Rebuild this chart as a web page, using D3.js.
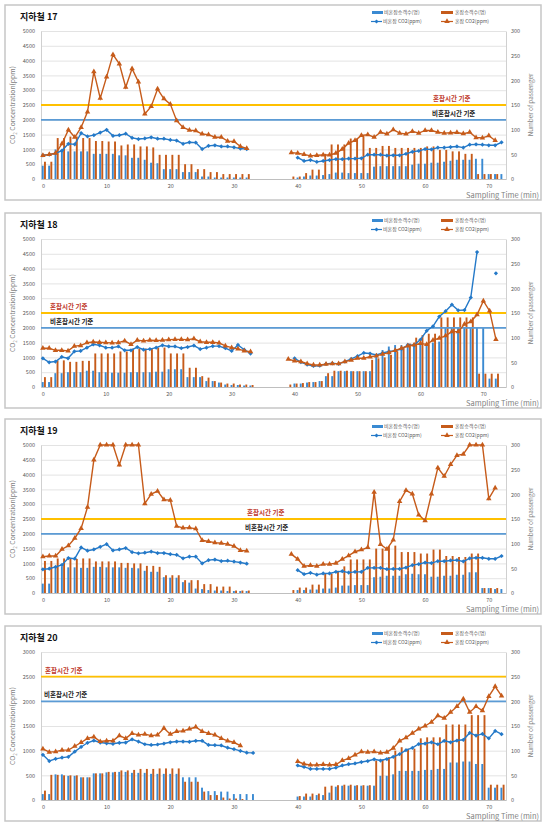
<!DOCTYPE html>
<html><head><meta charset="utf-8">
<script src="https://cdn.jsdelivr.net/npm/d3@7"></script>
<style>body{margin:0;background:#fff}</style>
</head><body>
<script>
const N = null;
const minutes = d3.range(0, 73);
const xTickLabels = [0, 10, 20, 30, 40, 50, 60, 70];
const passengerTicks = [0, 50, 100, 150, 200, 250, 300];
const titles = ["지하철 17", "지하철 18", "지하철 19", "지하철 20"];
const co2Max = [5000, 5000, 5000, 3000];
const xMaxCat = [72.7, 73.6, 72.7, 72.7];
const thresholds = [2500, 2000];
const thresholdLabels = ["혼잡시간 기준", "비혼잡시간 기준"];
const legendLabels = ["비혼잡승객수(명)", "혼잡승객수(명)", "비혼잡 CO2(ppm)", "혼잡 CO2(ppm)"];

// 지하철 17
const s17_blueCO2 = [800,820,870,960,1190,1170,1550,1440,1480,1570,1660,1460,1480,1530,1390,1350,1370,1410,1360,1360,1320,1300,1190,1240,1230,1010,1120,1140,1100,1100,1070,1030,1010, N,N,N,N,N,N,N, 720,610,640,580,610,640,670,670,690,690,700,820,820,820,790,800,800,850,920,950,1010,1000,1060,1060,1080,1100,1060,1160,1170,1160,1140,1140,1240];
const s17_orangeCO2 = [800,830,870,1190,1660,1410,1740,2270,3630,2730,3450,4200,3890,3100,3730,3280,2200,2450,3040,2710,2530,1970,1740,1650,1630,1520,1500,1410,1410,1280,1270,1100,1030, N,N,N,N,N,N, 890,870,830,780,800,810,810,870,1010,1210,1300,1470,1500,1410,1580,1520,1670,1550,1520,1610,1550,1640,1640,1580,1550,1560,1570,1530,1580,1400,1390,1460,1300, N];
const s17_blueBar = [27,27,60,56,56,56,56,56,51,51,51,51,48,48,43,43,39,33,32,20,20,20,14,14,14,5,5,3,3,3,3,3,3, N,N,N,N,N,N,N, 3,5,7,7,8,10,13,13,12,12,12,12,25,26,26,26,26,26,29,31,31,33,33,35,37,39,39,39,41,41,10,10,10];
const s17_orangeBar = [35,35,83,83,86,86,83,83,77,77,76,76,68,70,70,66,66,64,49,49,49,49,30,30,20,20,14,14,10,10,10,10,10, N,N,N,N,N,N, 5,5,12,19,19,51,70,70,70,82,82,88,63,63,67,67,63,63,63,63,63,66,66,59,59,56,56,51,51,10,10,10,10, N];

// 지하철 18
const s18_blueCO2 = [970,835,860,1015,970,1200,1220,1330,1440,1410,1330,1330,1370,1240,1240,1350,1260,1280,1330,1410,1370,1370,1310,1350,1400,1280,1330,1380,1380,1310,1220,1420,1260,1130, N,N,N,N,N,N, 970,840,760,710,720,780,800,780,860,950,1040,1150,1130,1080,1150,1200,1230,1280,1420,1410,1600,1900,2050,2380,2560,2780,2590,2600,3020,4560,N,N,3840];
const s18_orangeCO2 = [1310,1310,1240,1240,1220,1380,1400,1500,1520,1510,1500,1490,1500,1560,1440,1580,1560,1580,1570,1580,1600,1610,1610,1600,1630,1530,1510,1510,1490,1390,1330,1290,1220,1190, N,N,N,N,N, 940,880,860,790,745,745,770,790,790,860,910,970,970,1020,1050,1110,1160,1240,1310,1390,1420,1470,1440,1580,1650,1730,1870,1870,2120,2210,2440,2910,2570,1610];
const s18_blueBar = [10,10,28,28,30,30,30,33,33,30,30,29,29,29,30,30,30,30,31,31,36,36,36,20,20,20,12,12,9,5,4,4,3,3, N,N,N,N,N,N, 7,7,9,10,12,22,22,32,32,32,32,32,32,62,75,82,85,85,88,88,88,88,90,92,120,120,120,120,120,120,120,17,17];
const s18_orangeBar = [20,20,54,54,51,51,53,53,68,68,68,68,72,72,78,78,78,78,80,80,68,68,68,39,39,22,19,12,9,7,7,5,5,4, N,N,N,N,N, 5,7,8,10,10,12,28,33,33,33,32,32,32,55,58,60,65,72,80,88,100,105,108,108,141,141,141,141,141,141,27,27,27,27];

// 지하철 19
const s19_blueCO2 = [800,820,880,950,1180,1160,1540,1430,1470,1560,1650,1440,1470,1520,1380,1340,1360,1400,1350,1350,1310,1290,1170,1230,1230,1000,1110,1130,1080,1090,1060,1030,990, N,N,N,N,N,N,N, 770,635,680,620,660,660,715,735,690,715,715,850,850,850,805,815,815,860,940,975,1030,1010,1075,1075,1100,1110,1065,1170,1190,1190,1155,1155,1250];
const s19_orangeCO2 = [1230,1250,1250,1480,1600,1850,2180,2900,4500,5000,5000,5000,4330,5000,5000,5000,3020,3340,3440,3150,3140,2260,2200,2210,2170,1780,1740,1700,1680,1650,1580,1440,1420, N,N,N,N,N,N, 1315,1145,907,930,907,975,975,1010,1145,1260,1395,1460,1540,3410,1640,1485,1790,3095,3470,3345,2640,2440,3345,4230,3945,4340,4650,4690,5000,5000,5000,3190,3550, N];
const s19_blueBar = [19,19,51,54,52,52,51,51,53,53,52,52,52,51,51,50,45,43,43,32,31,31,22,21,9,8,6,5,5,4,4,4,4, N,N,N,N,N,N,N, 6,6,7,7,9,9,11,15,15,16,16,16,32,33,35,35,35,38,39,38,38,33,33,35,35,37,37,42,42,10,10,8,8];
const s19_orangeBar = [65,65,70,70,69,69,70,70,64,64,64,64,61,61,60,60,55,55,53,36,36,36,26,26,26,18,18,13,13,13,5,5,5, N,N,N,N,N,N, 6,11,11,17,17,39,39,45,54,68,68,68,68,90,90,95,96,83,83,83,80,80,88,88,75,75,73,73,80,80,10,10,10, N];

// 지하철 20
const s20_blueCO2 = [915,790,835,860,875,980,1075,1160,1205,1165,1150,1140,1160,1165,1230,1185,1130,1115,1125,1145,1170,1185,1185,1180,1200,1200,1115,1110,1105,1060,1030,995,960,955, N,N,N,N,N,N, 700,670,630,630,630,630,655,700,725,740,770,790,825,800,830,875,930,1010,1055,1135,1145,1170,1130,1200,1170,1205,1220,1360,1305,1340,1250,1400,1335];
const s20_orangeCO2 = [1035,970,980,1010,1010,1090,1165,1250,1280,1185,1200,1200,1305,1250,1350,1320,1335,1305,1320,1455,1335,1390,1400,1440,1480,1390,1350,1320,1250,1200,1165,1100, N,N,N,N,N,N,N,N, 780,730,710,710,720,710,720,800,845,915,980,970,980,955,970,1050,1200,1265,1355,1440,1500,1580,1710,1660,1780,1895,2050,1780,1895,1810,2100,2300,2110];
const s20_blueBar = [12,12,52,52,49,49,46,46,54,54,56,56,57,57,55,55,55,53,53,53,53,53,46,46,46,25,18,18,17,17,12,12,12,12, N,N,N,N,N,N, 7,7,7,10,10,15,27,29,29,29,29,29,29,49,49,52,59,59,59,59,61,61,63,63,76,76,78,78,73,73,25,25,25];
const s20_orangeBar = [19,51,51,50,50,50,46,46,54,54,57,57,60,60,61,63,63,63,64,64,64,64,37,37,37,17,10,10,5,3,3,2, N,N,N,N,N,N,N,N, 8,13,13,13,27,29,30,31,31,30,30,30,80,82,87,100,107,104,104,125,127,127,127,153,153,153,153,172,172,172,31,31,31];

const series = [
  [s17_blueBar, s17_orangeBar, s17_blueCO2, s17_orangeCO2],
  [s18_blueBar, s18_orangeBar, s18_blueCO2, s18_orangeCO2],
  [s19_blueBar, s19_orangeBar, s19_blueCO2, s19_orangeCO2],
  [s20_blueBar, s20_orangeBar, s20_blueCO2, s20_orangeCO2]
];

const panelTops = [5, 213, 419, 626];
const labelX = [[433, 432], [50, 50], [247, 245], [45, 44]];
const FONT = "'Noto Sans CJK KR','Noto Sans',sans-serif";
const BLUE_LINE = "#2479C8", BLUE_BAR = "#3A8AD2", ORANGE = "#C65B1A";
const TH_COLORS = ["#FFC000", "#5B9BD5"];
const TH_TEXT = ["#C0392B", "#222"];

const svg = d3.select("body").append("svg").attr("width", 550).attr("height", 827)
  .style("font-family", FONT);

const diamond = d3.symbol().type(d3.symbolSquare).size(9);
const tri = d3.symbol().type(d3.symbolTriangle).size(13);

series.forEach((s, k) => {
  const T = panelTops[k];
  const [blueBar, orangeBar, blueCO2, orangeCO2] = s;
  const x = d3.scaleLinear().domain([-0.3, xMaxCat[k]]).range([41, 506]);
  const g = svg.append("g");
  g.append("rect").attr("x", 5).attr("y", T).attr("width", 536).attr("height", 195)
    .attr("fill", "#fff").attr("stroke", "#c6c6c6").attr("stroke-width", 1.5);

  const yL = d3.scaleLinear().domain([0, co2Max[k]]).range([T + 174, T + 26]);
  const yR = d3.scaleLinear().domain([0, 300]).range([T + 174, T + 26]);
  const leftTicks = d3.range(0, co2Max[k] + 1, 500);

  g.append("g").attr("transform", "translate(41,0)")
    .call(d3.axisLeft(yL).tickValues(leftTicks).tickSize(-465).tickFormat(""))
    .call(a => { a.select(".domain").remove(); a.selectAll("line").attr("stroke", "#dcdcdc").attr("stroke-width", 0.8); });

  g.append("g").attr("transform", "translate(41,0)")
    .call(d3.axisLeft(yL).tickValues(leftTicks).tickFormat(d3.format("d")).tickSize(0).tickPadding(6))
    .call(a => { a.select(".domain").attr("stroke", "#d0d0d0");
      a.selectAll("text").attr("font-size", 5.5).attr("fill", "#595959").attr("font-family", FONT); });
  g.append("g").attr("transform", "translate(506,0)")
    .call(d3.axisRight(yR).tickValues(passengerTicks).tickFormat(d3.format("d")).tickSize(0).tickPadding(5))
    .call(a => { a.select(".domain").attr("stroke", "#d0d0d0");
      a.selectAll("text").attr("font-size", 5.5).attr("fill", "#595959").attr("font-family", FONT); });
  g.append("g").attr("transform", `translate(0,${T + 174})`)
    .call(d3.axisBottom(x).tickValues(xTickLabels).tickSize(0).tickPadding(5))
    .call(a => { a.select(".domain").attr("stroke", "#bfbfbf");
      a.selectAll("text").attr("font-size", 5.5).attr("fill", "#595959").attr("font-family", FONT); });

  g.append("g").selectAll("rect").data(minutes.filter(i => blueBar[i] != null)).join("rect")
    .attr("x", i => x(i) - 1.1).attr("width", 1.9)
    .attr("y", i => yR(blueBar[i])).attr("height", i => yR(0) - yR(blueBar[i]))
    .attr("fill", BLUE_BAR);
  g.append("g").selectAll("rect").data(minutes.filter(i => orangeBar[i] != null)).join("rect")
    .attr("x", i => x(i) + 1.1).attr("width", 1.9)
    .attr("y", i => yR(orangeBar[i])).attr("height", i => yR(0) - yR(orangeBar[i]))
    .attr("fill", ORANGE);

  thresholds.forEach((v, j) => {
    g.append("line").attr("x1", 41).attr("x2", 506).attr("y1", yL(v)).attr("y2", yL(v))
      .attr("stroke", TH_COLORS[j]).attr("stroke-width", 1.8);
    g.append("text").attr("x", labelX[k][j]).attr("y", yL(v) - 4)
      .attr("font-size", 6.5).attr("font-weight", "bold").attr("fill", TH_TEXT[j])
      .text(thresholdLabels[j]);
  });

  const drawLine = (arr, color, sym, rot) => {
    const line = d3.line().defined(i => arr[i] != null).x(i => x(i)).y(i => yL(arr[i]));
    g.append("path").datum(minutes).attr("d", line).attr("fill", "none")
      .attr("stroke", color).attr("stroke-width", 1.4);
    g.append("g").selectAll("path").data(minutes.filter(i => arr[i] != null)).join("path")
      .attr("d", sym).attr("fill", color)
      .attr("transform", i => `translate(${x(i)},${yL(arr[i])}) rotate(${rot})`);
  };
  drawLine(blueCO2, BLUE_LINE, diamond, 45);
  drawLine(orangeCO2, ORANGE, tri, 0);

  g.append("text").attr("x", 20).attr("y", T + 15).attr("font-size", 9).attr("font-weight", "bold")
    .attr("fill", "#111").text(titles[k]);
  g.append("text").attr("transform", `translate(15,${T + 100}) rotate(-90)`).attr("text-anchor", "middle")
    .attr("font-size", 6.8).attr("fill", "#7f7f7f")
    .html('CO<tspan font-size="4.5" dy="1.5">2</tspan><tspan dy="-1.5"> Concentration(ppm)</tspan>');
  g.append("text").attr("transform", `translate(533,${T + 100}) rotate(-90)`).attr("text-anchor", "middle")
    .attr("font-size", 6.3).attr("fill", "#7f7f7f").text("Number of passenger");
  g.append("text").attr("x", 539).attr("y", T + 193).attr("text-anchor", "end")
    .attr("font-size", 7.5).attr("fill", "#7f7f7f").text("Sampling Time (min)");

  const r1 = T + 7.5, r2 = T + 16.5;
  g.append("rect").attr("x", 372).attr("y", r1 - 1.5).attr("width", 11).attr("height", 3).attr("fill", BLUE_BAR);
  g.append("text").attr("x", 384).attr("y", r1 + 1.8).attr("font-size", 5).attr("fill", "#595959").text(legendLabels[0]);
  g.append("rect").attr("x", 441).attr("y", r1 - 1.5).attr("width", 12).attr("height", 3).attr("fill", ORANGE);
  g.append("text").attr("x", 455).attr("y", r1 + 1.8).attr("font-size", 5).attr("fill", "#595959").text(legendLabels[1]);
  g.append("line").attr("x1", 371).attr("x2", 382).attr("y1", r2).attr("y2", r2).attr("stroke", BLUE_LINE).attr("stroke-width", 1.2);
  g.append("path").attr("d", diamond).attr("fill", BLUE_LINE).attr("transform", `translate(376.5,${r2}) rotate(45)`);
  g.append("text").attr("x", 383).attr("y", r2 + 1.8).attr("font-size", 5).attr("fill", "#595959").text(legendLabels[2]);
  g.append("line").attr("x1", 441).attr("x2", 453).attr("y1", r2).attr("y2", r2).attr("stroke", ORANGE).attr("stroke-width", 1.2);
  g.append("path").attr("d", tri).attr("fill", ORANGE).attr("transform", `translate(447,${r2})`);
  g.append("text").attr("x", 455).attr("y", r2 + 1.8).attr("font-size", 5).attr("fill", "#595959").text(legendLabels[3]);
});
</script>
</body></html>
